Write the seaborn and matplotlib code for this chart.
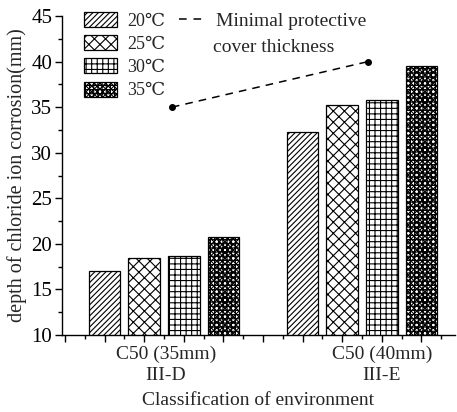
import matplotlib
matplotlib.use("Agg")
import matplotlib.pyplot as plt
import seaborn as sns
import pandas as pd
import numpy as np
from matplotlib.patches import Patch
from matplotlib.lines import Line2D

groups = ["C50 (35mm)\nIII-D", "C50 (40mm)\nIII-E"]
temps = ["20℃", "25℃", "30℃", "35℃"]
depth_20 = [17.0, 32.3]
depth_25 = [18.5, 35.2]
depth_30 = [18.7, 35.8]
depth_35 = [20.7, 39.5]
cover_thickness = [35, 40]

sns.set_theme(style="ticks")
plt.rcParams['font.family'] = ['Liberation Serif', 'DejaVu Serif']
plt.rcParams['hatch.linewidth'] = 0.8

rows = []
for t, vals in zip(temps, [depth_20, depth_25, depth_30, depth_35]):
    for g, v in zip(groups, vals):
        rows.append({"group": g, "temp": t, "depth": v})
df = pd.DataFrame(rows)

fig = plt.figure(figsize=(4.57, 4.12), dpi=100)
ax = fig.add_axes([0.1357, 0.187, 0.86, 0.774])

sns.barplot(data=df, x="group", y="depth", hue="temp", hue_order=temps,
            order=groups, palette=["white"] * 4, edgecolor="black",
            linewidth=0.9, gap=0.2, width=0.8, legend=False, ax=ax)

hatches = ["//////", "xxx", "+++", "xxxxxx++++"]
n_g = len(groups)
for i, p in enumerate(ax.patches):
    p.set_hatch(hatches[i // n_g])

ax.plot([0.04, 1.03], cover_thickness, color="black", linestyle=(0, (5, 4)),
        linewidth=1.1, marker="o", markersize=4)

ax.set_ylim(10, 45)
ax.set_xlim(-0.515, 1.47)
ax.set_yticks(np.arange(10, 46, 5))
ax.set_yticks(np.arange(12.5, 45, 5), minor=True)
ax.set_xticks(np.arange(-0.5, 1.35, 0.2))
ax.set_xticks(np.arange(-0.4, 1.45, 0.2), minor=True)
ax.set_xticklabels([])
ax.tick_params(axis="both", which="major", length=5, width=1, direction="out",
               labelsize=15, color="black", labelcolor="black", pad=2)
ax.tick_params(axis="both", which="minor", length=3, width=1, direction="out",
               color="black")
for s in ["top", "right"]:
    ax.spines[s].set_visible(False)
for s in ["left", "bottom"]:
    ax.spines[s].set_color("black")
    ax.spines[s].set_linewidth(1)

trans = ax.get_xaxis_transform()
for xpos, lab in zip([0.01, 1.1], groups):
    ax.text(xpos, -0.035, lab, transform=trans, ha="center", va="top",
            fontsize=14, linespacing=1.25)

ax.set_xlabel("Classification of environment", fontsize=14, labelpad=34)
ax.set_ylabel("depth of chloride ion corrosion(mm)", fontsize=14.5, labelpad=3)

handles = [Patch(facecolor="white", edgecolor="black", hatch=h, linewidth=0.9)
           for h in hatches]
leg = ax.legend(handles, temps, loc="upper left", bbox_to_anchor=(0.037, 1.035),
                frameon=False, fontsize=13, handlelength=1.85, handleheight=0.9,
                labelspacing=0.3, handletextpad=0.55, borderaxespad=0)
ax.add_artist(leg)
leg2 = ax.legend([Line2D([], [], color="black", linestyle=(0, (5, 4.5)), linewidth=1.1)],
                 ["Minimal protective"], loc="upper left",
                 bbox_to_anchor=(0.277, 1.035), frameon=False, fontsize=14,
                 handlelength=1.4, handletextpad=0.5, borderaxespad=0)
ax.text(0.385, 0.903, "cover thickness", transform=ax.transAxes, fontsize=14,
        ha="left", va="center")

fig.savefig("out.png", dpi=100)
